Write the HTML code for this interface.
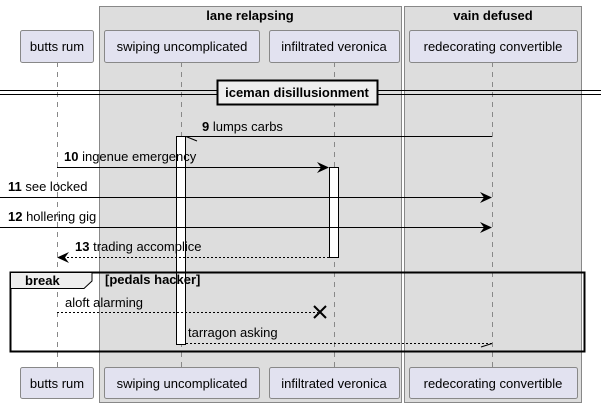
<!DOCTYPE html>
<html><head><style>body{margin:0;background:#fff}svg{display:block}text{font-family:"Liberation Sans",sans-serif;font-size:13px;fill:#000}</style></head><body>
<svg width="601" height="408" viewBox="0 0 601 408">
<rect x="99.5" y="6.5" width="302" height="396" fill="#ddd" stroke="#888"/>
<rect x="404.5" y="6.5" width="177" height="396" fill="#ddd" stroke="#888"/>
<text x="250" y="20" text-anchor="middle" font-weight="bold">lane relapsing</text>
<text x="493" y="20" text-anchor="middle" font-weight="bold">vain defused</text>
<g stroke="#888" stroke-dasharray="5,5" stroke-width="1">
<line x1="57.5" y1="62" x2="57.5" y2="367"/><line x1="181.5" y1="62" x2="181.5" y2="367"/>
<line x1="334.5" y1="62" x2="334.5" y2="367"/><line x1="492.5" y1="62" x2="492.5" y2="367"/></g>
<g fill="#e2e2f0" stroke="#888">
<rect x="20.5" y="30.5" width="73" height="32" rx="2"/><rect x="104.5" y="30.5" width="155" height="32" rx="2"/>
<rect x="269.5" y="30.5" width="130" height="32" rx="2"/><rect x="409.5" y="30.5" width="168" height="32" rx="2"/>
<rect x="20.5" y="367.5" width="73" height="31" rx="2"/><rect x="104.5" y="367.5" width="155" height="31" rx="2"/>
<rect x="269.5" y="367.5" width="130" height="31" rx="2"/><rect x="409.5" y="367.5" width="168" height="31" rx="2"/></g>
<g text-anchor="middle"><text x="57" y="51">butts rum</text><text x="182" y="51">swiping uncomplicated</text><text x="334" y="51">infiltrated veronica</text><text x="493" y="51">redecorating convertible</text>
<text x="57" y="388">butts rum</text><text x="182" y="388">swiping uncomplicated</text><text x="334" y="388">infiltrated veronica</text><text x="493" y="388">redecorating convertible</text></g>
<line x1="0" y1="90.5" x2="601" y2="90.5" stroke="#000"/><line x1="0" y1="94.5" x2="601" y2="94.5" stroke="#000"/>
<rect x="217.5" y="80.5" width="160" height="24" fill="#eee" stroke="#000" stroke-width="2"/>
<text x="297" y="97" text-anchor="middle" font-weight="bold">iceman disillusionment</text>
<rect x="176.5" y="136.5" width="9" height="208" fill="#fff" stroke="#000"/>
<rect x="329.5" y="167.5" width="9" height="90" fill="#fff" stroke="#000"/>
<g stroke="#000" fill="none">
<line x1="186" y1="136.5" x2="492" y2="136.5"/><path d="M186 136.5 L197 141"/>
<line x1="57" y1="167.5" x2="327" y2="167.5"/>
<line x1="0" y1="197.5" x2="490" y2="197.5"/>
<line x1="0" y1="227.5" x2="490" y2="227.5"/>
<line x1="59" y1="257.5" x2="329" y2="257.5" stroke-dasharray="2,2"/>
<line x1="57" y1="312.5" x2="318" y2="312.5" stroke-dasharray="2,2"/>
<path d="M314 306 L326 318 M326 306 L314 318" stroke-width="2"/>
<line x1="186" y1="343.5" x2="492" y2="343.5" stroke-dasharray="2,2"/><path d="M492 343.5 L481 347"/>
<rect x="10.5" y="272.5" width="574" height="79" stroke-width="2"/>
</g>
<g fill="#000">
<path d="M329 167.5 L317 162 L321 167.5 L317 173Z"/>
<path d="M492 197.5 L480 192 L484 197.5 L480 203Z"/>
<path d="M492 227.5 L480 222 L484 227.5 L480 233Z"/>
<path d="M57 257.5 L69 252 L65 257.5 L69 263Z"/></g>
<path d="M10.5 272.5 H92 V281 L84 288.5 H10.5Z" fill="#eee" stroke="#000"/>
<text x="25" y="285" font-weight="bold">break</text>
<text x="105" y="284" font-weight="bold" font-size="11">[pedals hacker]</text>
<text x="202" y="131"><tspan font-weight="bold">9</tspan> lumps carbs</text>
<text x="64" y="161"><tspan font-weight="bold">10</tspan> ingenue emergency</text>
<text x="8" y="191"><tspan font-weight="bold">11</tspan> see locked</text>
<text x="8" y="221"><tspan font-weight="bold">12</tspan> hollering gig</text>
<text x="75" y="251"><tspan font-weight="bold">13</tspan> trading accomplice</text>
<text x="65" y="307">aloft alarming</text>
<text x="188" y="337">tarragon asking</text>
</svg></body></html>
